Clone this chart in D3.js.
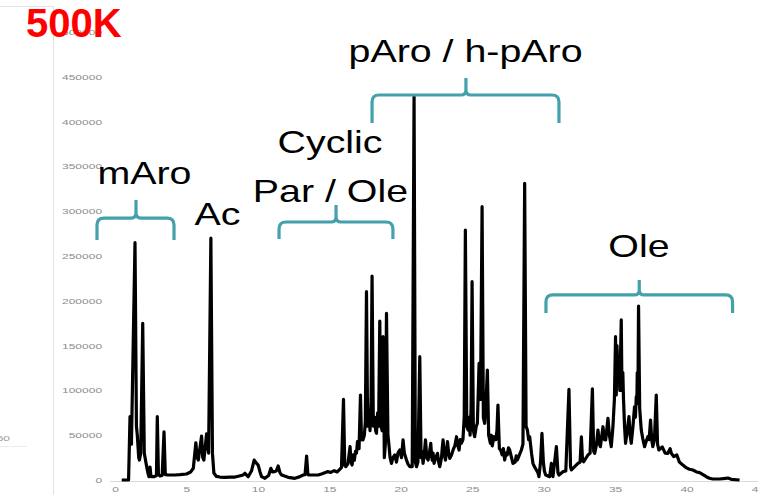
<!DOCTYPE html>
<html>
<head>
<meta charset="utf-8">
<script src="https://cdn.jsdelivr.net/npm/d3@7"></script>
<style>
  html, body { margin: 0; padding: 0; background: #fff; }
  svg { display: block; }
</style>
</head>
<body>
<svg id="chart" width="758" height="495"></svg>
<script>
// Pyrolysis GC chromatogram, retention time in minutes vs detector signal
const retentionTime = [
  0.47, 0.95, 1.05, 1.15, 1.40, 1.50, 1.56, 1.66, 1.71, 1.80,
  1.94, 2.05, 2.17, 2.30, 2.38, 2.45, 2.52, 2.75, 2.90, 2.96,
  3.04, 3.15, 3.30, 3.43, 3.52, 3.71, 4.20, 4.55, 5.00, 5.30,
  5.48, 5.66, 5.75, 5.83, 6.06, 6.14, 6.22, 6.41, 6.55, 6.71,
  6.82, 6.92, 7.10, 7.34, 7.70, 8.04, 8.40, 8.70, 8.97, 9.09,
  9.32, 9.55, 9.74, 9.88, 10.02, 10.15, 10.26, 10.49, 10.75, 10.91,
  11.02, 11.14, 11.28, 11.42, 11.55, 11.66, 12.12, 12.59, 12.90, 13.17,
  13.30, 13.41, 13.50, 13.57, 13.90, 14.22, 14.50, 14.87, 15.10, 15.34,
  15.55, 15.73, 15.85, 15.99, 16.08, 16.15, 16.30, 16.45, 16.52, 16.59,
  16.68, 16.75, 16.83, 16.90, 16.97, 17.08, 17.18, 17.25, 17.35, 17.45,
  17.52, 17.60, 17.68, 17.76, 17.85, 17.92, 17.99, 18.08, 18.18, 18.24,
  18.30, 18.38, 18.45, 18.53, 18.62, 18.70, 18.76, 18.85, 18.92, 19.00,
  19.10, 19.16, 19.25, 19.35, 19.45, 19.58, 19.70, 19.80, 19.93, 20.05,
  20.16, 20.25, 20.40, 20.50, 20.63, 20.80, 20.93, 21.02, 21.10, 21.20,
  21.33, 21.42, 21.48, 21.56, 21.64, 21.73, 21.82, 21.91, 22.00, 22.10,
  22.15, 22.20, 22.26, 22.33, 22.45, 22.57, 22.65, 22.73, 22.85, 22.90,
  22.96, 23.05, 23.13, 23.27, 23.35, 23.43, 23.55, 23.66, 23.78, 23.90,
  24.00, 24.08, 24.16, 24.24, 24.35, 24.44, 24.52, 24.62, 24.71, 24.78,
  24.85, 24.92, 24.99, 25.08, 25.17, 25.28, 25.36, 25.48, 25.58, 25.69,
  25.78, 25.87, 25.95, 26.06, 26.15, 26.27, 26.34, 26.40, 26.52, 26.65,
  26.73, 26.80, 26.90, 26.99, 27.10, 27.18, 27.27, 27.36, 27.45, 27.54,
  27.62, 27.75, 27.85, 28.00, 28.08, 28.16, 28.30, 28.44, 28.55, 28.67,
  28.77, 28.86, 28.95, 29.02, 29.15, 29.25, 29.35, 29.49, 29.60, 29.67,
  29.78, 29.88, 29.98, 30.05, 30.14, 30.42, 30.54, 30.65, 30.89, 31.00,
  31.07, 31.35, 31.55, 31.77, 31.88, 31.94, 32.17, 32.40, 32.55, 32.64,
  32.72, 32.80, 33.10, 33.25, 33.41, 33.50, 33.57, 33.70, 33.80, 33.90,
  33.97, 34.15, 34.25, 34.34, 34.50, 34.60, 34.73, 34.85, 34.95, 35.03,
  35.08, 35.13, 35.20, 35.26, 35.33, 35.43, 35.48, 35.54, 35.59, 35.66,
  35.73, 35.85, 35.97, 36.05, 36.13, 36.25, 36.36, 36.42, 36.48, 36.52,
  36.55, 36.60, 36.64, 36.72, 36.83, 36.95, 37.06, 37.15, 37.29, 37.38,
  37.48, 37.56, 37.64, 37.75, 37.88, 37.97, 38.06, 38.30, 38.50, 38.69,
  38.85, 38.93, 39.10, 39.32, 39.50, 39.74, 40.00, 40.20, 40.44, 40.70,
  40.91, 41.15, 41.38, 41.60, 41.84, 42.31, 42.75, 42.89, 43.13, 43.71
];
const signal = [
  0, 0, 70700, 40000, 265000, 60000, 50200, 25000, 22300, 30000,
  175000, 30000, 19000, 8000, 3700, 14500, 3700, 3700, 5000, 70700,
  6000, 4500, 5000, 53900, 6000, 5600, 5600, 6000, 6700, 9000,
  13100, 41600, 25000, 22300, 49100, 25000, 22300, 51400, 30000, 270000,
  30000, 7800, 4000, 3300, 3000, 3300, 3300, 4500, 5600, 7500,
  3700, 10000, 22300, 19000, 16700, 9000, 3700, 1900, 5000, 13100,
  9000, 9300, 10000, 15600, 8000, 5600, 3000, 1900, 3500, 5600,
  6000, 26800, 6000, 5600, 5600, 5600, 7000, 9300, 8500, 10400,
  9000, 11900, 14000, 90100, 16000, 14900, 18000, 37200, 20000, 16700,
  28000, 22000, 32000, 30000, 42800, 35000, 94900, 45000, 44700, 50000,
  65000, 210300, 60000, 78200, 55000, 90000, 227800, 60000, 70000, 55000,
  52100, 75000, 60000, 177500, 60000, 55000, 160000, 25000, 40000, 186100,
  50000, 41000, 25000, 18600, 25000, 27900, 20000, 30000, 33500, 25000,
  44700, 30000, 22300, 18000, 14900, 15000, 428000, 20000, 14900, 20000,
  137700, 25000, 32000, 18600, 28000, 44700, 25000, 22300, 30000, 41000,
  28000, 22000, 30000, 18600, 25000, 29800, 20000, 14900, 25000, 35000,
  44700, 28000, 22300, 42800, 30000, 24200, 28000, 33500, 38000, 48300,
  38000, 33500, 45000, 41000, 45000, 70000, 279000, 60000, 55800, 70000,
  50000, 80000, 221400, 55000, 48300, 60000, 63300, 130300, 90000, 305200,
  70000, 63300, 80000, 122800, 50000, 41000, 50000, 38000, 48300, 45000,
  55000, 83700, 35000, 33500, 28000, 35000, 22300, 30000, 28000, 36000,
  33500, 25000, 18600, 20000, 27000, 22300, 28000, 33500, 40000, 331300,
  60000, 55800, 45000, 48300, 30000, 18600, 15000, 11200, 8000, 3700,
  20000, 52100, 20000, 10000, 5600, 3700, 18600, 3700, 37200, 8000,
  5600, 9300, 10000, 101300, 15000, 11200, 14900, 18600, 20000, 48300,
  22000, 20400, 27900, 30000, 101900, 32000, 29800, 40000, 55800, 40000,
  37200, 59500, 45000, 44700, 68900, 50000, 37200, 60000, 90000, 160000,
  95000, 150000, 119100, 130000, 100000, 178700, 100000, 120000, 89300, 60000,
  41000, 55000, 70700, 50000, 41000, 60000, 81800, 70000, 93000, 85000,
  120000, 100000, 194300, 80000, 55800, 45000, 37200, 42000, 48300, 45000,
  67000, 45000, 37200, 45000, 94900, 40000, 33500, 37000, 30000, 29800,
  35000, 30000, 26000, 27900, 20000, 16700, 13500, 12000, 11200, 9000,
  8200, 6000, 3700, 2000, 1100, 1100, 1900, 2200, 800, 0
];

// Axis ticks
const xTicks = [0, 5, 10, 15, 20, 25, 30, 35, 40, 45];
const yTicks = [0, 50000, 100000, 150000, 200000, 250000, 300000, 350000, 400000, 450000, 500000];

// Compound-class brackets (time span in minutes, level in signal units)
const bracketFrom  = [-1.26, 11.48, 17.99, 30.16];
const bracketTo    = [4.13, 19.45, 31.07, 43.22];
const bracketMid   = [1.47, 15.47, 24.56, 36.69];
const bracketLevel = [292500, 288100, 429900, 206600];

// Class labels (centre time, baseline level)
const labelText   = ["mAro", "Ac", "Cyclic", "Par / Ole", "pAro / h-pAro", "Ole"];
const labelTime   = [2.06, 7.17, 15.05, 15.08, 24.53, 36.67];
const labelSignal = [330500, 284700, 365100, 310400, 466700, 249000];

const scaleTitle = "500K";

// ---------------------------------------------------------------------------
const svg = d3.select("#chart");
const W = 758, H = 495;
svg.append("rect").attr("width", W).attr("height", H).attr("fill", "#fff");

const x = d3.scaleLinear().domain([0, 45]).range([115, 758]);
const y = d3.scaleLinear().domain([0, 500000]).range([480, 32.2]);

// frame lines at the left edge
svg.append("path")
  .attr("d", "M0,6.5H53.5V495")
  .attr("fill", "none").attr("stroke", "#e2e2e2").attr("stroke-width", 1);
svg.append("line").attr("x1", 0).attr("x2", 27).attr("y1", 446.5).attr("y2", 446.5)
  .attr("stroke", "#ececec");
svg.append("text").attr("transform", "translate(10,441) scale(1.6,1)")
  .attr("text-anchor", "end").attr("font-family", "Liberation Sans, Arial, sans-serif")
  .attr("font-size", 7.5).attr("fill", "#9a9a9a").text("50");

// x baseline
svg.append("line").attr("x1", 110).attr("x2", W).attr("y1", 481.5).attr("y2", 481.5)
  .attr("stroke", "#d9d9d9").attr("stroke-width", 1);

// y axis labels
const yAxis = d3.axisLeft(y).tickValues(yTicks).tickSize(0).tickPadding(8.1)
  .tickFormat(d3.format("d"));
const gy = svg.append("g").attr("transform", "translate(115,0)").call(yAxis);
gy.select(".domain").remove();
gy.selectAll("text")
  .attr("font-family", "Liberation Sans, Arial, sans-serif")
  .attr("font-size", 7.5).attr("fill", "#8c8c8c")
  .attr("transform", "scale(1.6,1)");

// x axis labels
const xAxis = d3.axisBottom(x).tickValues(xTicks).tickSize(0).tickPadding(6)
  .tickFormat(d3.format("d"));
const gx = svg.append("g").attr("transform", "translate(0,481)").call(xAxis);
gx.select(".domain").remove();
gx.selectAll("text")
  .attr("font-family", "Liberation Sans, Arial, sans-serif")
  .attr("font-size", 7.5).attr("fill", "#8c8c8c")
  .attr("transform", "scale(1.6,1)");

// chromatogram trace
const points = retentionTime.map((t, i) => [t, signal[i]]);
const line = d3.line().x(d => x(d[0])).y(d => y(d[1]));
svg.append("path")
  .datum(points)
  .attr("d", line)
  .attr("fill", "none")
  .attr("stroke", "#000")
  .attr("stroke-width", 3.2)
  .attr("stroke-linejoin", "round");

// brackets
const legLen = [22, 17, 28, 18];
const tipLen = [18, 17, 17, 15];
const r = 7, rc = 5;
bracketFrom.forEach((t0, i) => {
  const x1 = x(t0), x2 = x(bracketTo[i]), cx = x(bracketMid[i]);
  const yh = y(bracketLevel[i]);
  const ye = yh + legLen[i], yt = yh - tipLen[i];
  const p = d3.path();
  p.moveTo(x1, ye);
  p.lineTo(x1, yh + r);
  p.quadraticCurveTo(x1, yh, x1 + r, yh);
  p.lineTo(cx - rc, yh);
  p.quadraticCurveTo(cx, yh, cx, yh - rc);
  p.lineTo(cx, yt);
  p.moveTo(cx, yh - rc);
  p.quadraticCurveTo(cx, yh, cx + rc, yh);
  p.lineTo(x2 - r, yh);
  p.quadraticCurveTo(x2, yh, x2, yh + r);
  p.lineTo(x2, ye);
  svg.append("path").attr("d", p.toString())
    .attr("fill", "none").attr("stroke", "#43a1ab")
    .attr("stroke-width", 3.2).attr("stroke-linejoin", "round");
});

// class labels
labelText.forEach((s, i) => {
  svg.append("text")
    .attr("transform", `translate(${x(labelTime[i])},${y(labelSignal[i])}) scale(1.23,1)`)
    .attr("text-anchor", "middle")
    .attr("font-family", "Liberation Sans, Arial, sans-serif")
    .attr("font-size", 32)
    .attr("fill", "#000")
    .text(s);
});

// scale title
svg.append("text")
  .attr("x", 26).attr("y", 37)
  .attr("font-family", "Liberation Sans, Arial, sans-serif")
  .attr("font-weight", "bold")
  .attr("font-size", 40)
  .attr("fill", "#ff0000")
  .text(scaleTitle);
</script>
</body>
</html>
